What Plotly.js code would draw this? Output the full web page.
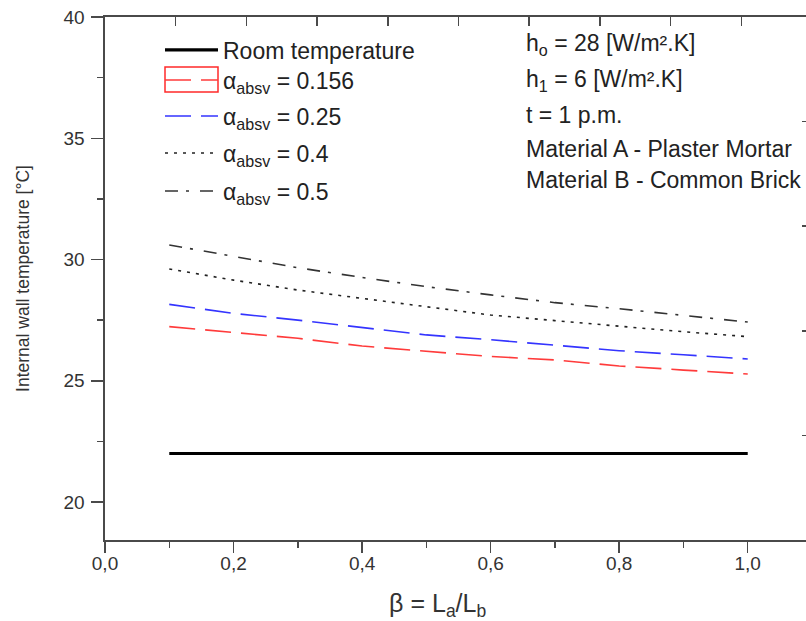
<!DOCTYPE html>
<html>
<head>
<meta charset="utf-8">
<script src="https://cdn.plot.ly/plotly-3.0.1.min.js"></script>
<style>
html,body{margin:0;padding:0;overflow:hidden;background:#fff;}
#chart{width:812px;height:621px;}
</style>
</head>
<body>
<div id="chart"></div>
<script>
// β = La/Lb
const beta = [0.1, 0.2, 0.3, 0.4, 0.5, 0.6, 0.7, 0.8, 0.9, 1.0];
const roomTemp = [22, 22, 22, 22, 22, 22, 22, 22, 22, 22];
const alpha0156 = [27.23, 27.00, 26.75, 26.43, 26.20, 26.00, 25.86, 25.61, 25.44, 25.28];
const alpha025 = [28.15, 27.78, 27.50, 27.19, 26.89, 26.69, 26.46, 26.24, 26.07, 25.90];
const alpha04 = [29.61, 29.15, 28.74, 28.40, 28.08, 27.71, 27.48, 27.24, 27.02, 26.82];
const alpha05 = [30.60, 30.14, 29.66, 29.26, 28.88, 28.54, 28.22, 27.97, 27.71, 27.42];
const seriesNames = ['Room temperature', 'α<sub>absv</sub> = 0.156', 'α<sub>absv</sub> = 0.25', 'α<sub>absv</sub> = 0.4', 'α<sub>absv</sub> = 0.5'];
const infoLines = ['h<sub>o</sub> = 28 [W/m².K]', 'h<sub>1</sub> = 6 [W/m².K]', 't = 1 p.m.', 'Material A - Plaster Mortar', 'Material B - Common Brick'];

const FONT = 'Arial, "Liberation Sans", Helvetica, sans-serif';
const AX = '#4a4a4a';
const TXT = '#333';

const traces = [
  {x: beta, y: roomTemp, name: seriesNames[0], legend: 'legend', mode: 'lines', line: {color: '#000', width: 3.2}},
  {x: beta, y: alpha0156, name: seriesNames[1], legend: 'legend2', mode: 'lines', line: {color: '#ff3b3b', width: 1.6, dash: '26px,10px'}},
  {x: beta, y: alpha025, name: seriesNames[2], legend: 'legend3', mode: 'lines', line: {color: '#3434ff', width: 1.6, dash: '26px,10px'}},
  {x: beta, y: alpha04, name: seriesNames[3], legend: 'legend4', mode: 'lines', line: {color: '#222', width: 1.6, dash: '3px,6px'}},
  {x: beta, y: alpha05, name: seriesNames[4], legend: 'legend5', mode: 'lines', line: {color: '#333', width: 1.6, dash: '13px,8px,3px,11px'}},
  {x: [], y: [], xaxis: 'x2', yaxis: 'y2', showlegend: false, hoverinfo: 'skip', mode: 'lines'}
];

const rowY = [45, 80, 115, 149, 180];
const annotations = infoLines.map((t, i) => ({
  text: t, xref: 'paper', yref: 'paper',
  x: (524 - 105) / 707, y: (540 - rowY[i]) / 523,
  xanchor: 'left', yanchor: 'middle', showarrow: false,
  font: {family: FONT, size: 23, color: '#222'}
}));

const legendRows = [50, 80, 116, 153, 191];
function mkLegend(row) {
  return {
    x: (160 - 105) / 707, y: (540 - row) / 523, xanchor: 'left', yanchor: 'middle',
    bgcolor: 'rgba(0,0,0,0)', borderwidth: 0,
    font: {family: FONT, size: 23, color: '#222'},
    itemwidth: 53
  };
}

const layout = {
  width: 812, height: 621,
  margin: {l: 105, r: 0, t: 17, b: 81},
  paper_bgcolor: '#fff', plot_bgcolor: '#fff',
  separators: ',.',
  font: {family: FONT, color: TXT},
  showlegend: true,
  legend: mkLegend(legendRows[0]),
  legend2: mkLegend(legendRows[1]),
  legend3: mkLegend(legendRows[2]),
  legend4: mkLegend(legendRows[3]),
  legend5: mkLegend(legendRows[4]),
  xaxis: {
    range: [0, 1.1], dtick: 0.2, tick0: 0, tickformat: '.1f',
    showgrid: false, zeroline: false,
    showline: true, linecolor: AX, linewidth: 1.6,
    ticks: 'outside', ticklen: 11, tickwidth: 1.5, tickcolor: AX,
    minor: {dtick: 0.1, ticks: 'outside', ticklen: 6, tickwidth: 1.5, tickcolor: AX},
    tickfont: {family: FONT, size: 19, color: TXT},
    ticklabelstandoff: -5,
    title: {text: 'β = L<sub>a</sub>/L<sub>b</sub>' + '\u00a0'.repeat(5) + '<span style="color:rgba(0,0,0,0)">.</span>', font: {family: FONT, size: 25, color: TXT}}
  },
  yaxis: {
    range: [18.433, 40], dtick: 5, tick0: 20,
    showgrid: false, zeroline: false,
    showline: true, linecolor: AX, linewidth: 1.6,
    ticks: 'outside', ticklen: 12, tickwidth: 1.5, tickcolor: AX,
    minor: {dtick: 2.5, ticks: 'outside', ticklen: 6, tickwidth: 1.5, tickcolor: AX},
    tickfont: {family: FONT, size: 19, color: TXT},
    ticklabelstandoff: 3,
    automargin: true,
    title: {text: 'Internal wall temperature [°C]', standoff: 29, font: {family: FONT, size: 17.5, color: TXT}}
  },
  xaxis2: {
    overlaying: 'x', side: 'top', range: [0, 10], dtick: 1,
    showgrid: false, zeroline: false, showticklabels: false,
    showline: true, linecolor: AX, linewidth: 1.6,
    ticks: 'inside', ticklen: 9, tickwidth: 1.5, tickcolor: AX
  },
  yaxis2: {
    overlaying: 'y', side: 'right', range: [0, 5], dtick: 1,
    showgrid: false, zeroline: false, showticklabels: false,
    showline: true, linecolor: AX, linewidth: 1.6,
    ticks: 'inside', ticklen: 10, tickwidth: 1.5, tickcolor: AX,
    minor: {dtick: 0.5, ticks: 'inside', ticklen: 4, tickwidth: 1, tickcolor: '#ddd'}
  },
  annotations: annotations,
  shapes: [{
    type: 'rect', xref: 'paper', yref: 'paper',
    x0: (165 - 105) / 707, x1: (218 - 105) / 707,
    y0: (540 - 92) / 523, y1: (540 - 67) / 523,
    line: {color: '#ff2a2a', width: 1.5}, fillcolor: 'rgba(0,0,0,0)'
  }]
};

Plotly.newPlot('chart', traces, layout, {displayModeBar: false, staticPlot: true});
</script>
</body>
</html>
